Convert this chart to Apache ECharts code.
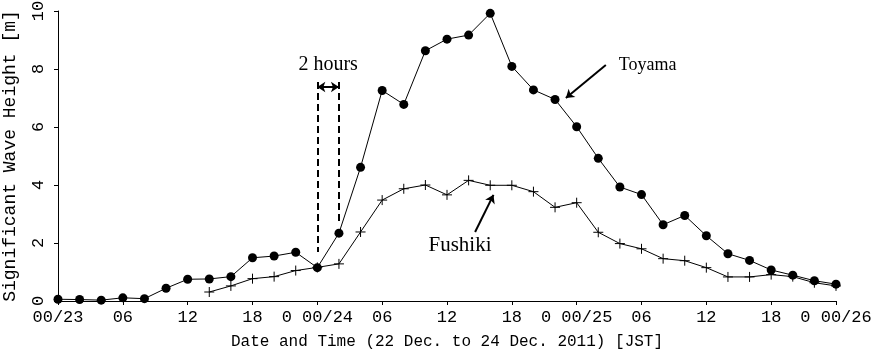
<!DOCTYPE html>
<html>
<head>
<meta charset="utf-8">
<script src="https://cdn.jsdelivr.net/npm/echarts@6/dist/echarts.min.js"></script>
<style>
html, body { margin: 0; padding: 0; background: #fff; }
#report { width: 872px; height: 354px; }
</style>
</head>
<body>
<div id="report"></div>
<script>
// hours since 00:00 on 23 Dec, every 2 hours
var hours = [];
for (var h = 0; h <= 72; h += 2) hours.push(h);

var toyama = [0.06, 0.05, 0.03, 0.11, 0.08, 0.44, 0.75, 0.76, 0.84, 1.49, 1.55, 1.68,
	1.15, 2.34, 4.61, 7.26, 6.78, 8.63, 9.03, 9.17, 9.92, 8.09, 7.28, 6.95,
	6.01, 4.92, 3.93, 3.67, 2.63, 2.95, 2.25, 1.63, 1.40, 1.07, 0.89, 0.70, 0.58];

// Fushiki starts at 14h
var fushiki = [null, null, null, null, null, null, null, 0.31, 0.52, 0.77, 0.84, 1.05,
	1.16, 1.28, 2.38, 3.48, 3.87, 4.00, 3.66, 4.16, 3.99, 3.99, 3.77, 3.23,
	3.39, 2.37, 1.98, 1.80, 1.46, 1.39, 1.15, 0.83, 0.83, 0.91, 0.84, 0.63, 0.52];

var xTickLabels = ['00/23', '06', '12', '18', '0 00/24', '06', '12', '18', '0 00/25', '06', '12', '18', '0 00/26'];

var monoFont = '"Liberation Mono", "DejaVu Sans Mono", monospace';
var serifFont = '"Liberation Serif", "DejaVu Serif", serif';

function pairs(vals) {
	var out = [];
	for (var i = 0; i < hours.length; i++) {
		if (vals[i] != null) out.push([hours[i], vals[i]]);
	}
	return out;
}

function textMark(x, y, txt, align, size) {
	return {
		coord: [x, y],
		symbol: 'circle',
		symbolSize: 1,
		itemStyle: { color: 'rgba(0,0,0,0)' },
		label: {
			show: true,
			position: 'inside',
			formatter: txt,
			color: '#000',
			fontFamily: serifFont,
			fontSize: size || 20,
			align: align || 'center'
		}
	};
}

var myChart = echarts.init(document.getElementById('report'));
var option = {
	animation: false,
	backgroundColor: '#fff',
	grid: { left: 58, right: 36, top: 11, bottom: 53, outerBoundsMode: 'none', containLabel: false },
	xAxis: {
		type: 'value',
		min: 0,
		max: 72,
		interval: 6,
		name: 'Date and Time (22 Dec. to 24 Dec. 2011) [JST]',
		nameLocation: 'middle',
		nameGap: 33,
		nameTextStyle: { fontFamily: monoFont, fontSize: 16, color: '#000' },
		axisLine: { lineStyle: { color: '#000', width: 1 } },
		axisTick: { length: 4, lineStyle: { color: '#000' } },
		splitLine: { show: false },
		axisLabel: {
			color: '#000',
			fontFamily: monoFont,
			fontSize: 17,
			margin: 8,
			formatter: function(v) { return xTickLabels[v / 6]; }
		}
	},
	yAxis: {
		type: 'value',
		min: 0,
		max: 10,
		interval: 2,
		name: 'Significant Wave Height [m]',
		nameLocation: 'middle',
		nameRotate: 90,
		nameGap: 39,
		nameTextStyle: { fontFamily: monoFont, fontSize: 18, color: '#000' },
		axisLine: { show: true, lineStyle: { color: '#000', width: 1 } },
		axisTick: { show: true, length: 4, lineStyle: { color: '#000' } },
		splitLine: { show: false },
		axisLabel: {
			color: '#000',
			fontFamily: monoFont,
			fontSize: 17,
			rotate: 90,
			margin: 11
		}
	},
	series: [{
		name: 'Toyama',
		type: 'line',
		data: pairs(toyama),
		symbol: 'circle',
		symbolSize: 9,
		itemStyle: { color: '#000' },
		lineStyle: { color: '#000', width: 1 },
		z: 3,
		markLine: {
			silent: true,
			symbol: ['none', 'none'],
			label: { show: false },
			lineStyle: { color: '#000', width: 2, type: [7, 4] },
			data: [
				[{ coord: [24, 7.55] }, { coord: [24, 1.69] }],
				[{ coord: [26, 7.55] }, { coord: [26, 2.72] }],
				[{ coord: [24, 7.38], symbol: 'arrow', lineStyle: { type: 'solid', width: 2 } },
				 { coord: [26, 7.38], symbol: 'arrow' }],
				[{ coord: [50.7, 8.14], symbol: 'none', lineStyle: { type: 'solid', width: 2 } },
				 { coord: [47.0, 7.0], symbol: 'arrow' }],
				[{ coord: [38.6, 2.38], symbol: 'none', lineStyle: { type: 'solid', width: 2 } },
				 { coord: [40.3, 3.66], symbol: 'arrow' }]
			],
			symbolSize: [8, 8]
		},
		markPoint: {
			silent: true,
			data: [
				textMark(25.0, 8.14, '2 hours', 'center', 20),
				textMark(51.9, 8.14, 'Toyama', 'left', 18),
				textMark(37.2, 1.93, 'Fushiki', 'center', 21)
			]
		}
	}, {
		name: 'Fushiki',
		type: 'line',
		data: pairs(fushiki),
		symbol: 'path://M0,5L10,5M5,0L5,10',
		symbolSize: 10,
		itemStyle: { color: 'none', borderColor: '#000', borderWidth: 1 },
		lineStyle: { color: '#000', width: 1 },
		z: 2
	}]
};
myChart.setOption(option);
</script>
</body>
</html>
